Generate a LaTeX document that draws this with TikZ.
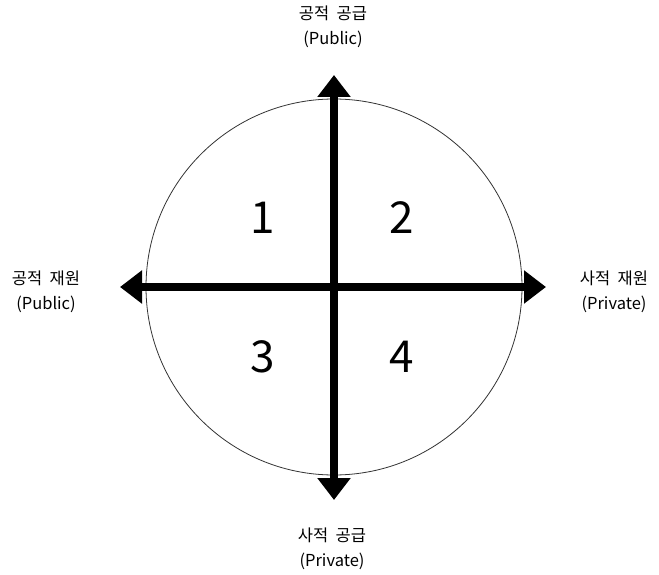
\documentclass[tikz,border=0pt]{standalone}
\usepackage{fontspec}
\setmainfont{Noto Sans CJK KR}
\usetikzlibrary{arrows.meta}

\tikzset{
  axis/.style={line width=8pt, -{Triangle[length=22pt,width=32pt]}},
  quad/.style={font=\fontsize{44}{44}\selectfont},
  axlabel/.style={align=center, font=\fontsize{16.5}{25}\selectfont}
}

\begin{document}
\begin{tikzpicture}[x=1pt, y=-1pt]
  \useasboundingbox (0,0) rectangle (659,575);
  % centre and axis tips
  \coordinate (o) at (334,287);
  \coordinate (top) at (334,75);
  \coordinate (bot) at (334,500);
  \coordinate (lft) at (120,287);
  \coordinate (rgt) at (546,287);
  % circle
  \draw[line width=0.8pt, black!80] (o) circle (188);
  % axes
  \draw[axis] (o) -- (top);
  \draw[axis] (o) -- (bot);
  \draw[axis] (o) -- (lft);
  \draw[axis] (o) -- (rgt);
  % quadrant numbers
  \node[quad] (q1) at (263,218) {1};
  \node[quad] (q2) at (402,218) {2};
  \node[quad] (q3) at (263,357) {3};
  \node[quad] (q4) at (402,357) {4};
  % axis labels
  \node[axlabel] (ltop) at (333,27) {공적~~공급\\(Public)};
  \node[axlabel] (lbot) at (332,549) {사적~~공급\\(Private)};
  \node[axlabel] (llft) at (46,292) {공적~~재원\\(Public)};
  \node[axlabel] (lrgt) at (614,292) {사적~~재원\\(Private)};
\end{tikzpicture}
\end{document}
